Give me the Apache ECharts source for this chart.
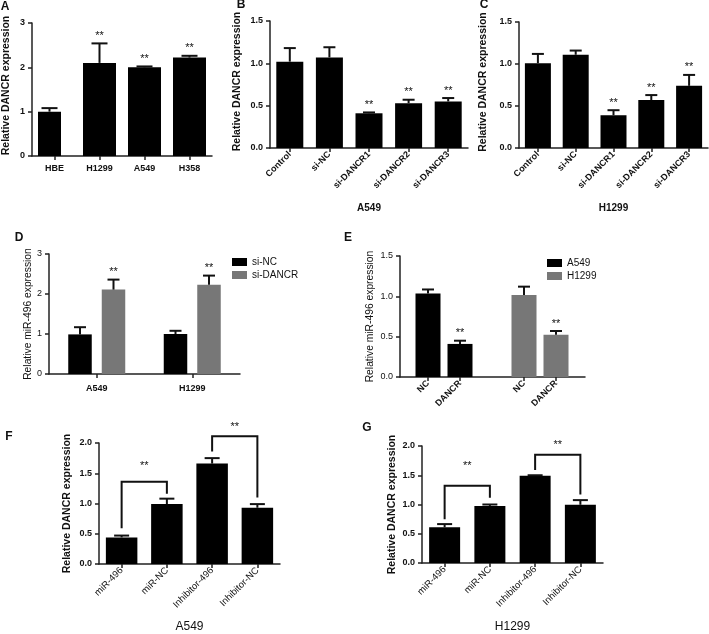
<!DOCTYPE html>
<html>
<head>
<meta charset="utf-8">
<script src="https://cdn.jsdelivr.net/npm/echarts@6/dist/echarts.min.js"></script>
<style>
  html, body { margin: 0; padding: 0; background: #fff; }
  #main { width: 709px; height: 634px; }
</style>
</head>
<body>
<div id="main"></div>
<script>
// A: DANCR in cell lines
const catA = ['HBE', 'H1299', 'A549', 'H358'];
const valA = [1.0, 2.1, 2.0, 2.22];
const errA = [1.08, 2.54, 2.02, 2.26];
const sigA = ['', '**', '**', '**'];

// B (A549) and C (H1299): siRNA knockdown
const catBC = ['Control', 'si-NC', 'si-DANCR1', 'si-DANCR2', 'si-DANCR3'];
const valB = [1.02, 1.07, 0.41, 0.53, 0.55];
const errB = [1.18, 1.19, 0.42, 0.57, 0.59];
const valC = [1.01, 1.11, 0.39, 0.57, 0.74];
const errC = [1.12, 1.16, 0.45, 0.63, 0.87];
const sigBC = ['', '', '**', '**', '**'];

// D: miR-496 after knockdown
const catD = ['A549', 'H1299'];
const valDnc = [0.99, 1.0];
const errDnc = [1.17, 1.08];
const valDsi = [2.11, 2.23];
const errDsi = [2.36, 2.46];
const sigD = ['**', '**'];

// E: miR-496 after DANCR overexpression
const catE = ['NC', 'DANCR', '', 'NC', 'DANCR'];
const valEa = [1.035, 0.41, '-', '-', '-'];
const errEa = [1.085, 0.45, '-', '-', '-'];
const valEh = ['-', '-', '-', 1.015, 0.525];
const errEh = ['-', '-', '-', 1.12, 0.57];
const sigE = ['', '**', '', '', '**'];

// F (A549) and G (H1299)
const catFG = ['miR-496', 'miR-NC', 'Inhibitor-496', 'Inhibitor-NC'];
const valF = [0.44, 0.99, 1.66, 0.93];
const errF = [0.47, 1.08, 1.75, 0.99];
const valG = [0.61, 0.975, 1.49, 0.995];
const errG = [0.665, 1.0, 1.5, 1.075];
// [left cat, right cat, left leg end, bracket top, right leg end, star height]
const brF = [[0, 1, 0.59, 1.36, 1.16, 1.62], [2, 3, 1.86, 2.11, 1.10, 2.27]];
const brG = [[0, 1, 0.75, 1.32, 1.115, 1.66], [2, 3, 1.59, 1.85, 1.17, 2.01]];

const FONT = '"Liberation Sans", Arial, sans-serif';
const INK = '#111';
const GREY = '#777';
const AX = {color: '#222', width: 1.5};

function yAx(gi, max, step, name, o) {
  o = o || {};
  return {
    type: 'value', gridIndex: gi, min: 0, max: max, interval: step,
    show: o.hide ? false : true,
    name: name || '', nameLocation: 'middle', nameGap: o.gap || 20, nameRotate: 90,
    nameTextStyle: {fontSize: o.nameSize || 10.5, fontWeight: o.nameWeight || 'bold', color: INK, fontFamily: FONT, padding: o.pad || 0},
    axisLine: {show: true, lineStyle: AX},
    axisTick: {show: true, length: 4, lineStyle: AX},
    axisLabel: {
      fontSize: 9, fontWeight: o.tickWeight || 'bold', color: INK, margin: 7, fontFamily: FONT,
      formatter: step < 1 ? v => v.toFixed(1) : v => String(v)
    },
    splitLine: {show: false}
  };
}

function xAx(gi, data, o) {
  o = o || {};
  return {
    type: 'category', gridIndex: gi, data: data,
    axisLine: {show: o.line !== false, onZero: false, lineStyle: AX},
    axisTick: {show: o.ticks !== false, alignWithLabel: true, length: 4, lineStyle: AX,
      interval: o.tickInterval || 0},
    axisLabel: {show: o.labels !== false, interval: 0, rotate: o.rotate || 0, fontSize: o.size || 9,
      fontWeight: o.weight || 'bold', color: INK, margin: o.margin || 6, fontFamily: FONT},
    name: o.name || '', nameLocation: 'middle', nameGap: o.nameGap || 40,
    nameTextStyle: {fontSize: o.nameSize || 10, fontWeight: o.nameWeight || 'bold', color: INK, fontFamily: FONT},
    splitLine: {show: false}
  };
}

function bars(gi, name, vals, width, color, extra) {
  return Object.assign({
    type: 'bar', name: name, xAxisIndex: gi, yAxisIndex: gi, data: vals,
    barWidth: width, itemStyle: {color: color}, z: 2
  }, extra || {});
}

// error bars drawn through the axes of the panel; shift(i) moves to a grouped bar
function errBars(gi, vals, errs, sig, cap, shift) {
  const items = [];
  vals.forEach((v, i) => {
    if (v !== '-') items.push({i: i, v: v, e: errs[i], s: sig ? sig[i] : ''});
  });
  return {
    type: 'custom', xAxisIndex: gi, yAxisIndex: gi, clip: false, z: 3,
    encode: {x: 0, y: [1, 2]},
    data: items.map(d => [d.i, d.v, d.e]),
    renderItem(params, api) {
      const d = items[params.dataIndex];
      const base = api.coord([d.i, d.v]);
      const top = api.coord([d.i, d.e]);
      const x = base[0] + (shift ? shift(d.i) : 0);
      const st = {stroke: INK, lineWidth: 2};
      const kids = [
        {type: 'line', shape: {x1: x, y1: base[1], x2: x, y2: top[1]}, style: st},
        {type: 'line', shape: {x1: x - cap, y1: top[1], x2: x + cap, y2: top[1]}, style: st}
      ];
      if (d.s) {
        kids.push({type: 'text', x: x, y: top[1] - 2,
          style: {text: d.s, font: '11px ' + FONT, fill: INK, align: 'center', verticalAlign: 'bottom'}});
      }
      return {type: 'group', children: kids};
    }
  };
}

function brackets(gi, rows) {
  return {
    type: 'custom', xAxisIndex: gi, yAxisIndex: gi, clip: false, z: 3,
    encode: {x: [0, 1], y: [2, 3, 4, 5]},
    data: rows,
    renderItem(params, api) {
      const l = api.value(0), r = api.value(1);
      const p1 = api.coord([l, api.value(2)]);
      const p2 = api.coord([l, api.value(3)]);
      const p3 = api.coord([r, api.value(3)]);
      const p4 = api.coord([r, api.value(4)]);
      const s = api.coord([l, api.value(5)]);
      return {type: 'group', children: [
        {type: 'polyline', shape: {points: [p1, p2, p3, p4]},
          style: {stroke: INK, lineWidth: 2, fill: 'none'}},
        {type: 'text', x: (p1[0] + p4[0]) / 2, y: s[1],
          style: {text: '**', font: '11px ' + FONT, fill: INK, align: 'center', verticalAlign: 'middle'}}
      ]};
    }
  };
}

function letter(t, x, y) {
  return {type: 'text', x: x, y: y,
    style: {text: t, font: 'bold 12px ' + FONT, fill: INK, align: 'center', verticalAlign: 'middle'}};
}

const chart = echarts.init(document.getElementById('main'), null, {renderer: 'canvas'});

const wA = 23, wA2 = 33;
const wD = 23.5, gapD = 10;

chart.setOption({
  animation: false,
  backgroundColor: '#fff',
  textStyle: {fontFamily: FONT},
  grid: [
    {left: 30, top: 23, width: 182, height: 133},   // A
    {left: 270, top: 21, width: 198, height: 127},  // B
    {left: 519, top: 22, width: 189, height: 126},  // C
    {left: 49, top: 254, width: 191, height: 120},  // D
    {left: 400, top: 256, width: 185, height: 121}, // E frame
    {left: 412, top: 256, width: 160, height: 121}, // E bars
    {left: 99, top: 443, width: 181, height: 121},  // F
    {left: 422, top: 446, width: 181, height: 118}  // G
  ],
  xAxis: [
    xAx(0, catA, {margin: 8}),
    xAx(1, catBC, {rotate: 45, margin: 5, name: 'A549', nameGap: 55}),
    xAx(2, catBC, {rotate: 45, margin: 5, name: 'H1299', nameGap: 55}),
    xAx(3, catD, {margin: 10}),
    xAx(4, [''], {ticks: false, labels: false}),
    xAx(5, catE, {line: false, rotate: 45, margin: 5, tickInterval: (i, v) => v !== ''}),
    xAx(6, catFG, {rotate: 45, margin: 5, size: 9.5, weight: 'normal', name: 'A549', nameGap: 57, nameSize: 12, nameWeight: 'normal'}),
    xAx(7, catFG, {rotate: 45, margin: 5, size: 9.5, weight: 'normal', name: 'H1299', nameGap: 58, nameSize: 12, nameWeight: 'normal'})
  ],
  yAxis: [
    yAx(0, 3, 1, 'Relative DANCR expression', {gap: 20, pad: [0, 0, 0, 8]}),
    yAx(1, 1.5, 0.5, 'Relative DANCR expression', {gap: 27, pad: [0, 0, 0, 6]}),
    yAx(2, 1.5, 0.5, 'Relative DANCR expression', {gap: 30, pad: [0, 0, 0, 6]}),
    yAx(3, 3, 1, 'Relative miR-496 expression', {gap: 11, nameSize: 10.3, nameWeight: 'normal', tickWeight: 'normal'}),
    yAx(4, 1.5, 0.5, 'Relative miR-496 expression', {gap: 25, nameSize: 10.3, nameWeight: 'normal', tickWeight: 'normal'}),
    yAx(5, 1.5, 0.5, '', {hide: true}),
    yAx(6, 2, 0.5, 'Relative DANCR expression', {gap: 26}),
    yAx(7, 2, 0.5, 'Relative DANCR expression', {gap: 24})
  ],
  legend: [
    {left: 232, top: 257, orient: 'vertical', icon: 'rect', itemWidth: 15, itemHeight: 8, itemGap: 3,
      padding: 0, data: ['si-NC', 'si-DANCR'], textStyle: {fontSize: 10, color: INK, fontFamily: FONT}},
    {left: 547, top: 258, orient: 'vertical', icon: 'rect', itemWidth: 15, itemHeight: 8, itemGap: 3,
      padding: 0, data: ['A549', 'H1299'], textStyle: {fontSize: 10, color: INK, fontFamily: FONT}}
  ],
  graphic: [
    letter('A', 5, 7), letter('B', 241, 5), letter('C', 484, 5), letter('D', 19, 238),
    letter('E', 348, 238), letter('F', 9, 437), letter('G', 367, 428)
  ],
  series: [
    // A: control bar is narrower than the cell-line bars
    bars(0, 'HBE bar', [valA[0], '-', '-', '-'], wA, '#000', {barGap: '-100%'}),
    bars(0, 'cell bars', ['-'].concat(valA.slice(1)), wA2, '#000', {barGap: '-100%'}),
    errBars(0, valA, errA, sigA, 8, i => (i === 0 ? (wA - wA2) / 2 : 0)),
    // B
    bars(1, 'B bars', valB, 27, '#000'),
    errBars(1, valB, errB, sigBC, 6),
    // C
    bars(2, 'C bars', valC, 26, '#000'),
    errBars(2, valC, errC, sigBC, 6),
    // D
    bars(3, 'si-NC', valDnc, wD, '#000', {barGap: (gapD / wD * 100) + '%'}),
    bars(3, 'si-DANCR', valDsi, wD, GREY, {barGap: (gapD / wD * 100) + '%'}),
    errBars(3, valDnc, errDnc, null, 6, () => -(wD + gapD) / 2),
    errBars(3, valDsi, errDsi, sigD, 6, () => (wD + gapD) / 2),
    // E
    bars(5, 'A549', valEa, 25, '#000', {barGap: '-100%'}),
    bars(5, 'H1299', valEh, 25, GREY, {barGap: '-100%'}),
    errBars(5, valEa, errEa, sigE, 6),
    errBars(5, valEh, errEh, sigE, 6),
    // F
    bars(6, 'F bars', valF, 31.5, '#000'),
    errBars(6, valF, errF, null, 7.5),
    brackets(6, brF),
    // G
    bars(7, 'G bars', valG, 31, '#000'),
    errBars(7, valG, errG, null, 7.5),
    brackets(7, brG)
  ]
});
</script>
</body>
</html>
